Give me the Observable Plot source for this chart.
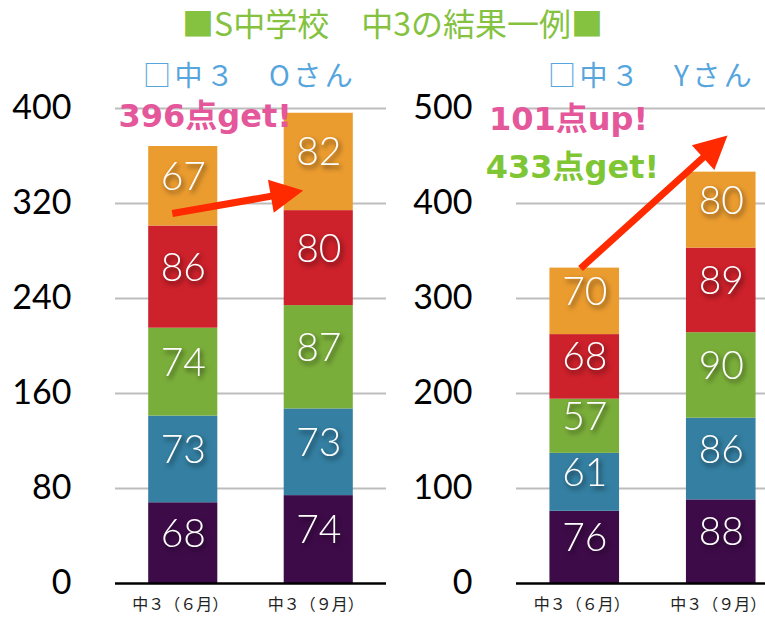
<!DOCTYPE html>
<html><head><meta charset="utf-8">
<script src="https://cdn.jsdelivr.net/npm/d3@7"></script>
<script src="https://cdn.jsdelivr.net/npm/@observablehq/plot@0.6"></script>
<style>
body{margin:0;background:#fff;}
#wrap{position:relative;width:765px;height:620px;overflow:hidden;background:#fff;}
.title{position:absolute;left:0;top:-1px;width:765px;text-align:center;font-family:"Noto Sans CJK JP",sans-serif;font-size:32px;line-height:normal;color:#84c23f;padding-left:20px;box-sizing:border-box;white-space:nowrap;}
.sub{position:absolute;top:54px;font-family:"Noto Sans CJK JP",sans-serif;font-size:28px;line-height:normal;color:#56a5dd;letter-spacing:3.5px;white-space:nowrap;}
.panel{position:absolute;top:92px;height:528px;}
.panel svg{overflow:visible;max-width:none !important;display:block;}
g[fill="#fff"] text{filter:drop-shadow(2px 3px 2.5px rgba(0,0,0,0.6));}
</style></head>
<body><div id="wrap">
<div class="title">■S中学校　中3の結果一例■</div>
<div class="sub" style="left:143px">□中３　Oさん</div>
<div class="sub" style="left:548px">□中３　Yさん</div>
<div class="panel" id="left" style="left:0;width:400px"></div>
<div class="panel" id="right" style="left:400px;width:395px"></div>
</div>
<script>
// ---- data ----
const terms = ["中３（６月）", "中３（９月）"];
const subjects = ["科目1", "科目2", "科目3", "科目4", "科目5"]; // bottom → top
const subjectColors = ["#3e0b49", "#347fa2", "#7aae3a", "#cd212b", "#eb9c2f"];
const oJune = [68, 73, 74, 86, 67];
const oSept = [74, 73, 87, 80, 82];
const yJune = [76, 61, 57, 68, 70];
const ySept = [88, 86, 90, 89, 80];
const oTicks = [0, 80, 160, 240, 320, 400];
const yTicks = [0, 100, 200, 300, 400, 500];
// annotations (in data units: x = term index, y = score)
const oNotes = [{text: "396点get!", x: 0.162, y: 392.8, color: "#e4579b"}];
const yNotes = [
  {text: "101点up!", x: -0.119, y: 487.9, color: "#e4579b"},
  {text: "433点get!", x: -0.09, y: 437.9, color: "#7ec634"}
];
const oArrow = [{x1: -0.081, y1: 311.6, x2: 0.672, y2: 326.6}];
const yArrow = [{x1: -0.031, y1: 331.6, x2: 0.886, y2: 450.8}];

function stackRows(series) {
  const rows = [];
  series.forEach((vals, i) => {
    let acc = 0;
    vals.forEach((v, k) => {
      rows.push({term: i, subject: subjects[k], value: v, y1: acc, y2: acc + v});
      acc += v;
    });
  });
  return rows;
}

function panel(el, id, series, ticks, notes, arrows, width, ml, mr) {
  const rows = stackRows(series);
  const hw = 0.255;
  const p = Plot.plot({
    width, height: 528,
    marginTop: 16, marginBottom: 37, marginLeft: ml, marginRight: mr,
    style: {fontFamily: "Lato, 'Noto Sans', sans-serif", background: "transparent", overflow: "visible", maxWidth: "none"},
    x: {domain: [-0.5, 1.5], label: null},
    y: {domain: [0, ticks[ticks.length - 1]], label: null},
    color: {domain: subjects, range: subjectColors},
    marks: [
      Plot.ruleY(ticks.slice(1), {stroke: "#bdbdbd", strokeWidth: 2.2}),
      Plot.rect(rows, {x1: d => d.term - hw, x2: d => d.term + hw, y1: "y1", y2: "y2", fill: "subject"}),
      Plot.ruleY([0], {stroke: "#000", strokeWidth: 2.5}),
      Plot.axisY({ticks, tickSize: 0, tickPadding: 44, fontSize: 34, fontWeight: 400, color: "#000", label: null}),
      Plot.axisX({ticks: [0, 1], tickFormat: i => terms[i], tickSize: 0, tickPadding: 15, fontSize: 16,
        fontFamily: "'Noto Sans CJK JP', sans-serif", color: "#222", dx: -3, label: null}),
      Plot.text(rows, {x: "term", y: d => (d.y1 + d.y2) / 2, text: "value", fill: "#fff",
        fontSize: 39, fontWeight: 300, dy: -9}),
      Plot.link(arrows, {x1: "x1", y1: "y1", x2: "x2", y2: "y2", stroke: "#ff2a00", strokeWidth: 7}),
      ...notes.map(n => Plot.text([n], {x: "x", y: "y", text: "text", fill: n.color, fontSize: 32,
        fontWeight: "bold", fontFamily: "'DejaVu Sans', 'Noto Sans CJK JP', sans-serif"}))
    ]
  });
  const svg = d3.select(p);
  const m = svg.append("defs").append("marker")
    .attr("id", id).attr("viewBox", "0 -2.4 4.7 4.8")
    .attr("refX", 0.5).attr("refY", 0)
    .attr("markerWidth", 4.7).attr("markerHeight", 4.8)
    .attr("orient", "auto").attr("overflow", "visible");
  m.append("path").attr("d", "M0,-2.4L4.7,0L0,2.4Z").attr("fill", "#ff2a00");
  svg.selectAll('g[stroke="#ff2a00"] path').attr("marker-end", `url(#${id})`);
  document.getElementById(el).appendChild(p);
}

panel("left", "headL", [oJune, oSept], oTicks, oNotes, oArrow, 400, 115, 14);
panel("right", "headR", [yJune, ySept], yTicks, yNotes, yArrow, 395, 116, 6);
</script>
</body></html>
